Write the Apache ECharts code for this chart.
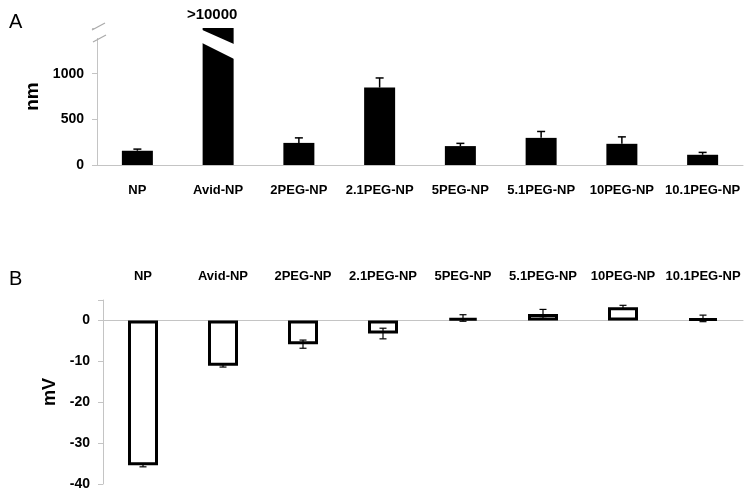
<!DOCTYPE html>
<html>
<head>
<meta charset="utf-8">
<script src="https://cdn.jsdelivr.net/npm/echarts@6/dist/echarts.min.js"></script>
<style>
  html, body { margin: 0; padding: 0; background: #fff; }
  #chart { width: 749px; height: 495px; }
</style>
</head>
<body>
<div id="chart"></div>
<script>
const categories = ['NP', 'Avid-NP', '2PEG-NP', '2.1PEG-NP', '5PEG-NP', '5.1PEG-NP', '10PEG-NP', '10.1PEG-NP']
// A: size (nm), Avid-NP is >10000 and gets cut at the axis break
const sizeNm = [156, 10000, 242, 848, 207, 297, 232, 112]
const sizeErr = [18, 0, 55, 105, 30, 70, 76, 26]
// B: zeta potential (mV)
const zetaMv = [-35.4, -11.1, -5.8, -3.2, 0.6, 1.6, 3.2, 0.5]
const zetaErr = [0.4, 0.3, 1.0, 1.3, 0.8, 1.1, 0.5, 0.8]
const nmTicks = [0, 500, 1000]
const mvTicks = [-40, -30, -20, -10, 0]

const FONT = "'Liberation Sans', Arial, sans-serif"
const AXIS_GRAY = '#c4c4c4'
const A_LEFT = 97

const chart = echarts.init(document.getElementById('chart'))

const errA = (params, api) => {
  const e = api.value(2)
  if (!e) return
  const b = api.coord([api.value(0), api.value(1)])
  const t = api.coord([api.value(0), api.value(1) + e])
  const w = 4
  return {
    type: 'group',
    children: [
      { type: 'line', shape: { x1: b[0], y1: b[1], x2: t[0], y2: t[1] }, style: { stroke: '#000', lineWidth: 1.5 } },
      { type: 'line', shape: { x1: t[0] - w, y1: t[1], x2: t[0] + w, y2: t[1] }, style: { stroke: '#000', lineWidth: 1.5 } }
    ]
  }
}

const errB = (params, api) => {
  const i = api.value(0), v = api.value(1), e = api.value(2)
  const lo = api.coord([i, v - e])
  const hi = api.coord([i, v + e])
  const w = 3.5
  const st = { stroke: '#000', lineWidth: 1.2 }
  return {
    type: 'group',
    children: [
      { type: 'line', shape: { x1: lo[0], y1: lo[1], x2: hi[0], y2: hi[1] }, style: st },
      { type: 'line', shape: { x1: lo[0] - w, y1: lo[1], x2: lo[0] + w, y2: lo[1] }, style: st },
      { type: 'line', shape: { x1: hi[0] - w, y1: hi[1], x2: hi[0] + w, y2: hi[1] }, style: st }
    ]
  }
}

const option = {
  animation: false,
  textStyle: { fontFamily: FONT },
  title: [
    { text: 'A', left: 4, top: 7, textStyle: { fontSize: 20, fontWeight: 'normal', color: '#000', fontFamily: FONT } },
    { text: 'B', left: 4, top: 264, textStyle: { fontSize: 20, fontWeight: 'normal', color: '#000', fontFamily: FONT } }
  ],
  grid: [
    { left: A_LEFT, right: 6, top: 28, height: 137 },
    { left: 103, right: 6, top: 300, height: 184 }
  ],
  xAxis: [
    {
      gridIndex: 0, type: 'category', data: categories,
      axisLine: { lineStyle: { color: AXIS_GRAY } },
      axisTick: { length: 5, lineStyle: { color: AXIS_GRAY } },
      axisLabel: { interval: 0, margin: 19, color: '#000', fontSize: 13, fontWeight: 'bold', fontFamily: FONT }
    },
    {
      gridIndex: 1, type: 'category', data: categories,
      axisLine: { onZero: true, lineStyle: { color: AXIS_GRAY } },
      axisTick: { length: 5, lineStyle: { color: AXIS_GRAY } },
      axisLabel: { show: false }
    },
    {
      gridIndex: 1, type: 'category', data: categories, position: 'top',
      axisLine: { show: false }, axisTick: { show: false },
      axisLabel: { interval: 0, margin: 17, color: '#000', fontSize: 13, fontWeight: 'bold', fontFamily: FONT }
    }
  ],
  yAxis: [
    {
      gridIndex: 0, type: 'value', min: nmTicks[0], max: 1500, interval: nmTicks[1] - nmTicks[0],
      name: 'nm', nameLocation: 'middle', nameGap: 49, nameRotate: 90,
      nameTextStyle: { fontSize: 19, fontWeight: 'bold', color: '#000', fontFamily: FONT },
      splitLine: { show: false },
      axisLine: { show: true, lineStyle: { color: AXIS_GRAY } },
      axisTick: { show: true, length: 5, lineStyle: { color: AXIS_GRAY } },
      axisLabel: {
        margin: 13, color: '#000', fontSize: 14, fontWeight: 'bold', fontFamily: FONT,
        formatter: v => nmTicks.includes(v) ? String(v) : ''
      }
    },
    {
      gridIndex: 1, type: 'value', min: mvTicks[0], max: 5, interval: mvTicks[1] - mvTicks[0],
      name: 'mV', nameLocation: 'middle', nameGap: 43, nameRotate: 90,
      nameTextStyle: { fontSize: 18, fontWeight: 'bold', color: '#000', fontFamily: FONT },
      splitLine: { show: false },
      axisLine: { show: true, lineStyle: { color: AXIS_GRAY } },
      axisTick: { show: true, length: 5, lineStyle: { color: AXIS_GRAY } },
      axisLabel: {
        margin: 13, color: '#000', fontSize: 14, fontWeight: 'bold', fontFamily: FONT,
        formatter: v => mvTicks.includes(v) ? String(v) : ''
      }
    }
  ],
  series: [
    {
      type: 'bar', xAxisIndex: 0, yAxisIndex: 0, barWidth: 31,
      itemStyle: { color: '#000' },
      data: sizeNm.map((v, i) => i === 1 ? {
        value: v,
        label: {
          show: true, position: 'top', distance: 6, offset: [-6, 0], formatter: '>10000',
          color: '#000', fontSize: 15, fontWeight: 'bold', fontFamily: FONT
        }
      } : v)
    },
    {
      type: 'custom', xAxisIndex: 0, yAxisIndex: 0, z: 5,
      renderItem: errA, encode: { x: 0, y: 1 },
      data: sizeNm.map((v, i) => [i, v, sizeErr[i]])
    },
    {
      type: 'bar', xAxisIndex: 1, yAxisIndex: 1, barWidth: 30,
      itemStyle: { color: '#fff', borderColor: '#000', borderWidth: 3 },
      data: zetaMv
    },
    {
      type: 'custom', xAxisIndex: 1, yAxisIndex: 1, z: 5,
      renderItem: errB, encode: { x: 0, y: 1 },
      data: zetaMv.map((v, i) => [i, v, zetaErr[i]])
    }
  ]
}

chart.setOption(option)

// break marks: white stripe through the Avid-NP bar and slashes on the y axis
const breakPt = chart.convertToPixel({ gridIndex: 0 }, [1, 1500])
const cx = breakPt[0], ty = breakPt[1]
chart.setOption({
  graphic: [
    {
      type: 'polygon', z: 100,
      shape: { points: [[cx - 18, ty + 1], [cx + 18, ty + 17], [cx + 18, ty + 32], [cx - 18, ty + 14]] },
      style: { fill: '#fff' }
    },
    { type: 'rect', z: 100, shape: { x: A_LEFT - 3, y: ty - 4, width: 6, height: 14 }, style: { fill: '#fff' } },
    { type: 'line', z: 101, shape: { x1: A_LEFT - 5, y1: ty + 2, x2: A_LEFT + 8, y2: ty - 5 }, style: { stroke: '#aaa', lineWidth: 1.2 } },
    { type: 'line', z: 101, shape: { x1: A_LEFT - 4, y1: ty + 14, x2: A_LEFT + 9, y2: ty + 7 }, style: { stroke: '#aaa', lineWidth: 1.2 } }
  ]
})

window.addEventListener('resize', () => chart.resize())
</script>
</body>
</html>
